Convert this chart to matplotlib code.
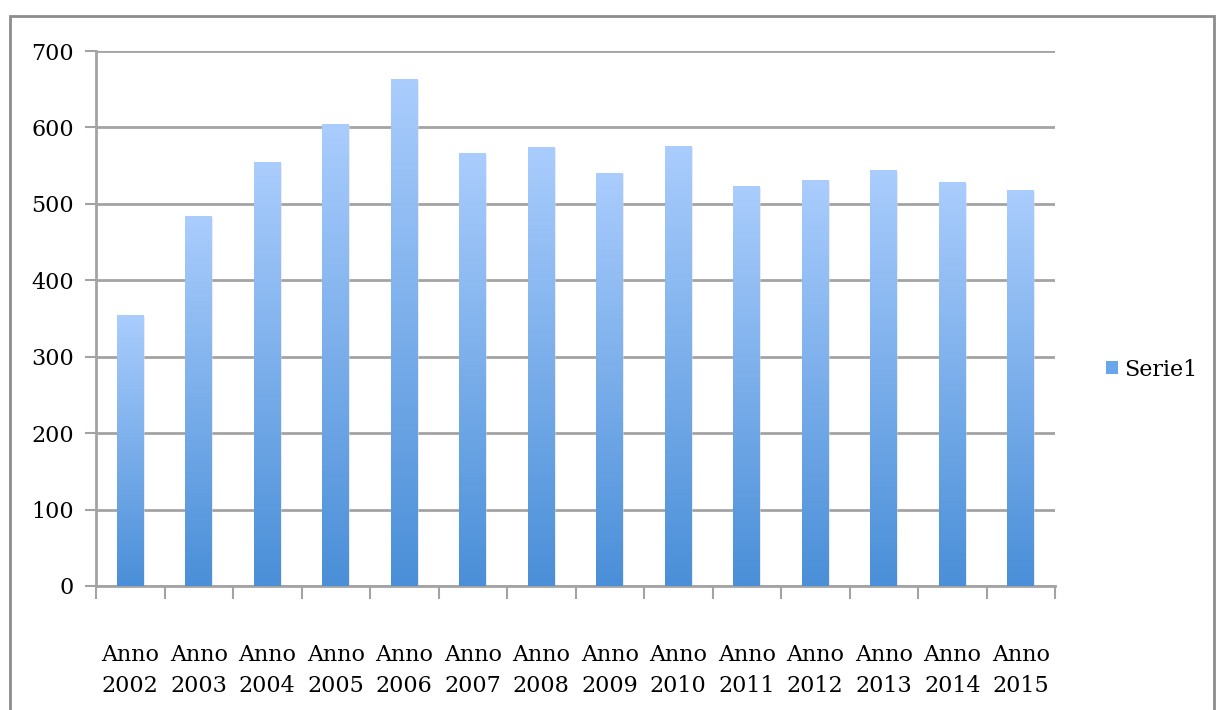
import matplotlib
matplotlib.use('Agg')
import matplotlib.pyplot as plt
from matplotlib.patches import Rectangle
import numpy as np

# Dati
anni = ['2002', '2003', '2004', '2005', '2006', '2007', '2008',
        '2009', '2010', '2011', '2012', '2013', '2014', '2015']
etichette = ['Anno\n' + a for a in anni]
valori = [354, 484, 555, 605, 663, 566, 575, 541, 576, 523, 531, 544, 528, 518]

plt.rcParams['font.family'] = ['DejaVu Serif']

fig = plt.figure(figsize=(12.21, 7.10), dpi=100)
ax = fig.add_axes([96 / 1221, 1 - 586 / 710, (1055 - 96) / 1221, (586 - 51) / 710])

# cornice esterna del grafico
fig.patches.append(Rectangle((10 / 1221, -0.05), (1214 - 10) / 1221, 1.05 - 16 / 710,
                             transform=fig.transFigure, fill=False,
                             edgecolor='#8c8c8c', linewidth=2, zorder=0))

x = np.arange(len(valori))
larghezza = 0.39
barre = ax.bar(x, valori, width=larghezza, color='none', edgecolor='none', zorder=3)

# sfumatura verticale dentro ogni barra
grad = np.linspace(0, 1, 256).reshape(-1, 1)
cmap = matplotlib.colors.LinearSegmentedColormap.from_list('blu', ['#4a8fd8', '#aacdfd'])
for b in barre:
    x0, y0 = b.get_x(), b.get_y()
    w, h = b.get_width(), b.get_height()
    # ombra leggera
    ax.add_patch(Rectangle((x0 + 0.02, y0), w, h - 2, facecolor='#d8d8d8',
                           edgecolor='none', alpha=0.5, zorder=2))
    im = ax.imshow(grad, extent=(x0, x0 + w, y0, y0 + h), origin='lower',
                   cmap=cmap, aspect='auto', zorder=3)
    im.set_clip_path(b)

ax.set_xlim(-0.5, len(valori) - 0.5)
ax.set_ylim(0, 700)
ax.set_yticks(range(0, 701, 100))
ax.grid(axis='y', color='#a3a3a3', linewidth=2, zorder=1)
ax.set_axisbelow(True)

# tick dell'asse x sui confini delle categorie
ax.set_xticks(np.arange(-0.5, len(valori), 1))
ax.set_xticklabels([])
ax.set_xticks(x, minor=True)
ax.set_xticklabels(etichette, minor=True, fontsize=16, linespacing=1.5)
ax.tick_params(axis='x', which='major', length=9, width=1.5, color='#a3a3a3')
ax.tick_params(axis='x', which='minor', length=0, pad=42)
ax.tick_params(axis='y', length=8, width=1.5, color='#a3a3a3', labelsize=16, pad=8)

for s in ['top', 'right']:
    ax.spines[s].set_visible(False)
for s in ['left', 'bottom']:
    ax.spines[s].set_color('#a3a3a3')
    ax.spines[s].set_linewidth(2)

# legenda
fig.patches.append(Rectangle((1106 / 1221, 1 - 374 / 710), 12 / 1221, 13 / 710,
                             transform=fig.transFigure, facecolor='#6aa6ea',
                             edgecolor='none'))
fig.text(1124 / 1221, 1 - 370 / 710, 'Serie1', fontsize=16, va='center', ha='left')

plt.savefig('out.png', dpi=100)
